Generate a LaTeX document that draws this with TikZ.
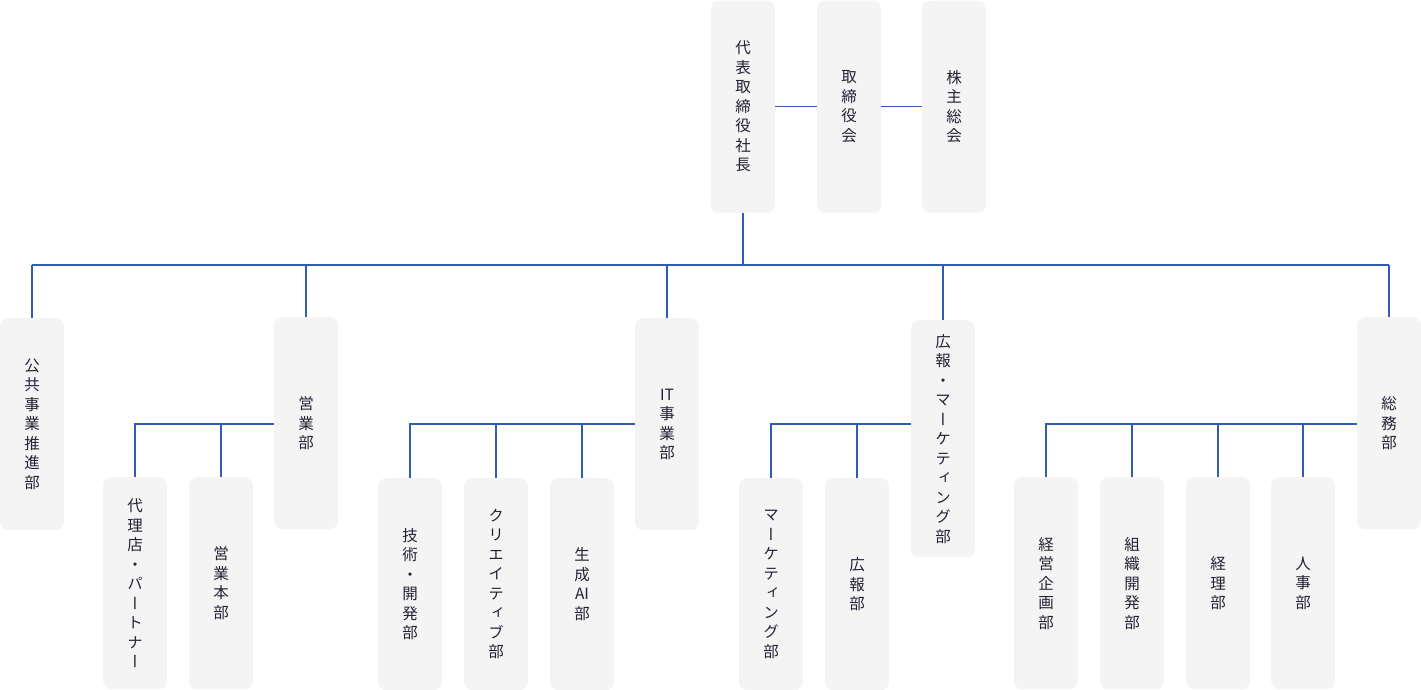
\documentclass[tikz,border=0pt]{standalone}
\usepackage{fontspec}
\newfontfamily\vjp[RawFeature=+vert]{Noto Sans CJK JP}
\definecolor{boxgray}{RGB}{244,244,244}
\definecolor{linec}{RGB}{48,92,182}
\definecolor{textc}{RGB}{34,34,52}
\tikzset{
  orgbox/.style={rounded corners=8pt, fill=boxgray, draw=none, minimum width=64pt,
    minimum height=212pt, inner sep=0pt, align=center, anchor=north, text=textc,
    font=\vjp\fontsize{15.5}{19.5}\selectfont},
  conn/.style={draw=linec, line width=1.3pt}
}
\begin{document}
\begin{tikzpicture}[x=1pt,y=-1pt]
\useasboundingbox (0,0) rectangle (1421,690);
% top row
\node[orgbox] (ceo) at (743,0.5) {代\\表\\取\\締\\役\\社\\長};
\node[orgbox] (board) at (849,0.5) {取\\締\\役\\会};
\node[orgbox] (share) at (954,0.5) {株\\主\\総\\会};
% second row
\node[orgbox] (pub) at (32,318) {公\\共\\事\\業\\推\\進\\部};
\node[orgbox] (sales) at (306,317) {営\\業\\部};
\node[orgbox] (it) at (667,318) {IT\\事\\業\\部};
\node[orgbox, minimum height=237pt] (pr) at (943,320) {広\\報\\・\\マ\\ー\\ケ\\テ\\ィ\\ン\\グ\\部};
\node[orgbox] (ga) at (1389,317) {総\\務\\部};
% third row
\node[orgbox] (agent) at (135,477) {代\\理\\店\\・\\パ\\ー\\ト\\ナ\\ー};
\node[orgbox] (saleshq) at (221,477) {営\\業\\本\\部};
\node[orgbox] (tech) at (410,478) {技\\術\\・\\開\\発\\部};
\node[orgbox] (creative) at (496,478) {ク\\リ\\エ\\イ\\テ\\ィ\\ブ\\部};
\node[orgbox] (genai) at (582,478) {生\\成\\AI\\部};
\node[orgbox] (mkt) at (771,478) {マ\\ー\\ケ\\テ\\ィ\\ン\\グ\\部};
\node[orgbox] (prd) at (857,478) {広\\報\\部};
\node[orgbox] (plan) at (1046,477) {経\\営\\企\\画\\部};
\node[orgbox] (orgdev) at (1132,477) {組\\織\\開\\発\\部};
\node[orgbox] (acct) at (1218,477) {経\\理\\部};
\node[orgbox] (hr) at (1303,477) {人\\事\\部};
% coordinates
\coordinate (busL) at (32,265);
\coordinate (busR) at (1389,265);
\coordinate (subY) at (0,424);
% top connectors
\draw[conn] (ceo) -- (board);
\draw[conn] (board) -- (share);
\draw[conn] (ceo.south) -- (ceo.south|-busL);
\draw[conn] (busL) -- (busR);
\foreach \n in {pub,sales,it,pr,ga}{
  \draw[conn] (\n.north) -- (\n.north|-busL);
}
% sub-branches
\draw[conn] (sales.west|-subY) -| (agent.north);
\draw[conn] (saleshq.north) -- (saleshq.north|-subY);
\draw[conn] (it.west|-subY) -| (tech.north);
\draw[conn] (creative.north) -- (creative.north|-subY);
\draw[conn] (genai.north) -- (genai.north|-subY);
\draw[conn] (pr.west|-subY) -| (mkt.north);
\draw[conn] (prd.north) -- (prd.north|-subY);
\draw[conn] (ga.west|-subY) -| (plan.north);
\draw[conn] (orgdev.north) -- (orgdev.north|-subY);
\draw[conn] (acct.north) -- (acct.north|-subY);
\draw[conn] (hr.north) -- (hr.north|-subY);
\end{tikzpicture}
\end{document}
